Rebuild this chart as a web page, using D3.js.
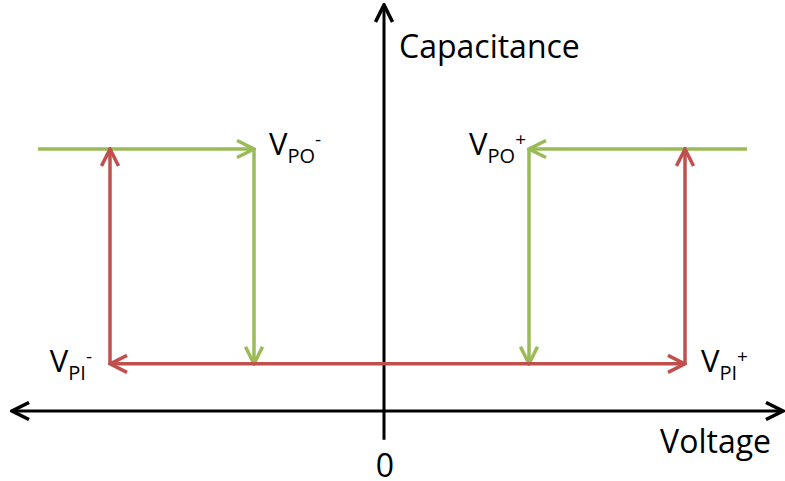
<!DOCTYPE html>
<html>
<head>
<meta charset="utf-8">
<script src="https://cdn.jsdelivr.net/npm/d3@7"></script>
<style>
  body { margin: 0; background: #fff; }
  text { font-family: "Open Sans", Lato, sans-serif; fill: #000; }
</style>
</head>
<body>
<div id="chart"></div>
<script>
let width = 785,
    height = 481;

// switching voltages (arbitrary units, 0 at the capacitance axis)
const switchNames = ["PI", "PO", "PO", "PI"];
const switchSigns = ["-", "-", "+", "+"];
const switchVoltages = [-2.74, -1.30, 1.45, 3.01];
// capacitance levels: low (after pull-in), high (after pull-out)
const capLevels = [0.18, 1.0];
// where the sweeps come in from
const sweepStart = [-3.46, 3.63];
// axis extents
const voltageExtent = [-3.72, 3.99];
const capExtent = [-0.11, 1.55];
const tickValues = [0];

const green = "#9bbb59",
      red = "#c0504d";

const svg = d3.select("#chart")
    .append("svg")
    .attr("width", width)
    .attr("height", height)
    .attr("viewBox", [0, 0, width, height]);

let x = d3.scaleLinear()
    .domain([0, 1])
    .range([384, 484]);

let y = d3.scaleLinear()
    .domain([0, 1])
    .range([411, 149]);

// arrow heads
const defs = svg.append("defs");
function marker(id, color) {
  defs.append("marker")
    .attr("id", id)
    .attr("viewBox", "-20 -10 22 20")
    .attr("refX", 0)
    .attr("refY", 0)
    .attr("markerUnits", "userSpaceOnUse")
    .attr("markerWidth", 22)
    .attr("markerHeight", 20)
    .attr("orient", "auto-start-reverse")
    .append("path")
    .attr("d", "M-17,-8.5L0,0L-17,8.5")
    .attr("fill", "none")
    .attr("stroke", color)
    .attr("stroke-width", 3.5)
    .attr("stroke-linejoin", "miter");
}
marker("arrow-black", "#000");
marker("arrow-green", green);
marker("arrow-red", red);

const [cLow, cHigh] = capLevels;
const [vpiNeg, vpoNeg, vpoPos, vpiPos] = switchVoltages;

// axes
const axes = svg.append("g")
    .attr("stroke", "#000")
    .attr("stroke-width", 3);

axes.append("line")
    .attr("x1", x(voltageExtent[0])).attr("x2", x(voltageExtent[1]))
    .attr("y1", y(0)).attr("y2", y(0))
    .attr("marker-start", "url(#arrow-black)")
    .attr("marker-end", "url(#arrow-black)");

axes.append("line")
    .attr("x1", x(0)).attr("x2", x(0))
    .attr("y1", y(capExtent[0])).attr("y2", y(capExtent[1]))
    .attr("marker-end", "url(#arrow-black)");

svg.append("g")
  .selectAll("text")
  .data(tickValues)
  .join("text")
  .attr("x", d => x(d) + 1)
  .attr("y", 477)
  .attr("text-anchor", "middle")
  .attr("font-size", 32)
  .text(d => d);

svg.append("text")
    .attr("x", x(0) + 15)
    .attr("y", 58)
    .attr("font-size", 32)
    .text("Capacitance");

svg.append("text")
    .attr("x", 771)
    .attr("y", 453)
    .attr("text-anchor", "end")
    .attr("font-size", 32)
    .text("Voltage");

// sweep segments [v1, c1, v2, c2, color, both-ends]
const segments = [
  [sweepStart[0], cHigh, vpoNeg, cHigh, "green", false],
  [vpoNeg, cHigh, vpoNeg, cLow, "green", false],
  [sweepStart[1], cHigh, vpoPos, cHigh, "green", false],
  [vpoPos, cHigh, vpoPos, cLow, "green", false],
  [vpiNeg, cLow, vpiNeg, cHigh, "red", false],
  [vpiPos, cLow, vpiPos, cHigh, "red", false],
  [vpiNeg, cLow, vpiPos, cLow, "red", true]
];

svg.append("g")
  .selectAll("line")
  .data(segments)
  .join("line")
  .attr("x1", d => x(d[0]))
  .attr("y1", d => y(d[1]))
  .attr("x2", d => x(d[2]))
  .attr("y2", d => y(d[3]))
  .attr("stroke", d => d[4] == "green" ? green : red)
  .attr("stroke-width", 3.5)
  .attr("marker-end", d => `url(#arrow-${d[4]})`)
  .attr("marker-start", d => d[5] ? `url(#arrow-${d[4]})` : null);

// switching point labels
const labelPos = [
  { dx: -18, c: cLow, anchor: "end" },
  { dx: 15, c: cHigh, anchor: "start" },
  { dx: -3, c: cHigh, anchor: "end" },
  { dx: 16, c: cLow, anchor: "start" }
];

const labels = svg.append("g")
  .selectAll("text")
  .data(switchVoltages)
  .join("text")
  .attr("x", (d, i) => x(d) + labelPos[i].dx)
  .attr("y", (d, i) => y(labelPos[i].c) + (labelPos[i].c == cHigh ? 6 : 8))
  .attr("text-anchor", (d, i) => labelPos[i].anchor)
  .attr("font-size", 31);

labels.append("tspan").text("V");
labels.append("tspan")
  .attr("font-size", 20)
  .attr("dy", 8)
  .text((d, i) => switchNames[i]);
labels.append("tspan")
  .attr("font-size", 19)
  .attr("dy", -17)
  .text((d, i) => switchSigns[i]);
</script>
</body>
</html>
